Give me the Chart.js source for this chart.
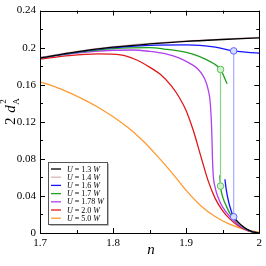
<!DOCTYPE html>
<html>
<head>
<meta charset="utf-8">
<script src="https://cdn.jsdelivr.net/npm/chart.js@4"></script>
<style>
    body { margin: 0; background: #fff; }
    #wrap { width: 266px; height: 266px; }
</style>
</head>
<body>
<div id="wrap"><canvas id="chart" width="266" height="266"></canvas></div>
<script>
// values
const nTop = [1.70, 1.75, 1.80, 1.85, 1.90, 1.95, 2.00];
const dBlack = [0.189, 0.1955, 0.2005, 0.2040, 0.2068, 0.2088, 0.2105];
const dBrown = [0.1893, 0.1959, 0.2010, 0.2045, 0.2073, 0.2093, 0.2110];

const nBlackLow = [1.962, 1.970, 1.980, 1.990, 2.000];
const dBlackLow = [0.021, 0.0125, 0.0055, 0.0015, 0];
const nBrownLow = [1.964, 1.970, 1.980, 1.990, 2.000];
const dBrownLow = [0.019, 0.012, 0.0052, 0.0014, 0];

const nBlue = [1.70, 1.75, 1.80, 1.85, 1.90, 1.94, 1.965, 2.00];
const dBlue = [0.189, 0.1953, 0.2000, 0.2025, 0.2030, 0.2005, 0.1965, 0.1940];
const nBlueLow = [1.953, 1.955, 1.958, 1.962, 1.965, 1.970, 1.980, 1.990, 2.000];
const dBlueLow = [0.058, 0.046, 0.034, 0.023, 0.0175, 0.0122, 0.0052, 0.0015, 0];

const nGreen = [1.70, 1.75, 1.80, 1.85, 1.87, 1.90, 1.915, 1.938, 1.947, 1.956];
const dGreen = [0.189, 0.1948, 0.1990, 0.2000, 0.1985, 0.1950, 0.1915, 0.1826, 0.1765, 0.1610];
const nGreenLow = [1.946, 1.947, 1.950, 1.955, 1.960, 1.970, 1.980, 1.990, 2.000];
const dGreenLow = [0.0624, 0.0506, 0.039, 0.029, 0.021, 0.0115, 0.0052, 0.0015, 0];

const nPurple = [1.70, 1.75, 1.80, 1.826, 1.85, 1.871, 1.89, 1.905, 1.916, 1.925, 1.93, 1.933, 1.935, 1.936, 1.937, 1.94, 1.945, 1.95, 1.96, 1.97, 1.98, 1.99, 2.00];
const dPurple = [0.189, 0.1942, 0.1972, 0.1975, 0.1960, 0.1935, 0.1890, 0.1830, 0.1770, 0.1670, 0.1550, 0.1400, 0.1100, 0.0800, 0.0630, 0.0480, 0.0360, 0.0280, 0.0175, 0.0098, 0.0043, 0.0012, 0];

const nRed = [1.70, 1.74, 1.78, 1.81, 1.83, 1.85, 1.865, 1.88, 1.89, 1.90, 1.91, 1.92, 1.93, 1.94, 1.95, 1.96, 1.97, 1.98, 1.99, 2.00];
const dRed = [0.1876, 0.1915, 0.1932, 0.1922, 0.1875, 0.1790, 0.1710, 0.1585, 0.1470, 0.1320, 0.1100, 0.0830, 0.0565, 0.0368, 0.0240, 0.0150, 0.0085, 0.0038, 0.0011, 0];

const nOrange = [1.70, 1.72, 1.74, 1.76, 1.78, 1.80, 1.82, 1.84, 1.86, 1.88, 1.90, 1.92, 1.94, 1.96, 1.98, 2.00];
const dOrange = [0.163, 0.158, 0.1515, 0.144, 0.1355, 0.1255, 0.114, 0.100, 0.0835, 0.0655, 0.0460, 0.0295, 0.0175, 0.0093, 0.0040, 0.0008];

// jumps (upper circle -> lower circle)
const nJumpBlue = [1.965, 1.965];
const dJumpBlue = [0.1965, 0.0175];
const nJumpGreen = [1.947, 1.947];
const dJumpGreen = [0.1765, 0.0506];

const xTicks = [1.7, 1.8, 1.9, 2.0];
const yTicks = [0, 0.04, 0.08, 0.12, 0.16, 0.2, 0.24];

const legendLabels = ['1.3', '1.4', '1.6', '1.7', '1.78', '2.0', '5.0'];
const legendColors = ['#000000', '#d8b8b8', '#1414ff', '#1ea01e', '#b040ee', '#e01818', '#ff9a30'];

const SERIF = '"Liberation Serif", "Times New Roman", serif';

function pts(n, d) {
    return n.map((x, i) => ({ x: x, y: d[i] }));
}

function curve(n, d, color, width) {
    return {
        data: pts(n, d),
        borderColor: color,
        borderWidth: width || 1.3,
        pointRadius: 0,
        fill: false,
        cubicInterpolationMode: 'monotone'
    };
}

function markers(n, d, edge, face) {
    return {
        data: pts(n, d),
        showLine: false,
        pointRadius: 3.3,
        pointBorderWidth: 1,
        pointBorderColor: edge,
        pointBackgroundColor: face
    };
}

// first dataset is drawn on top
const datasets = [
    markers(nJumpBlue, dJumpBlue, '#5a64ff', '#d8dcff'),
    markers(nJumpGreen, dJumpGreen, '#5cc05c', '#d0f0d0'),
    curve(nJumpBlue, dJumpBlue, '#a8acff', 1.2),
    curve(nJumpGreen, dJumpGreen, '#88d488', 1.2),
    curve(nTop, dBlack, legendColors[0]),
    curve(nTop, dBrown, legendColors[1]),
    curve(nBlackLow, dBlackLow, legendColors[0]),
    curve(nBrownLow, dBrownLow, legendColors[1]),
    curve(nBlue, dBlue, legendColors[2]),
    curve(nBlueLow, dBlueLow, legendColors[2]),
    curve(nGreen, dGreen, legendColors[3]),
    curve(nGreenLow, dGreenLow, legendColors[3]),
    curve(nPurple, dPurple, legendColors[4]),
    curve(nRed, dRed, legendColors[5]),
    curve(nOrange, dOrange, legendColors[6])
];

// frame, inward ticks on all four sides, axis titles and legend box
const decorations = {
    id: 'decorations',
    afterDatasetsDraw(chart) {
        const { ctx, chartArea: a, scales } = chart;
        const xs = scales.x, ys = scales.y;
        ctx.save();
        ctx.strokeStyle = '#000';
        ctx.lineWidth = 1;
        ctx.strokeRect(Math.round(a.left) + 0.5, Math.round(a.top) + 0.5, Math.round(a.right - a.left), Math.round(a.bottom - a.top));

        ctx.beginPath();
        for (let i = 0; i <= 6; i++) {
            const v = 1.7 + i * 0.05;
            const len = i % 2 === 0 ? 5 : 3;
            const px = Math.round(xs.getPixelForValue(v)) + 0.5;
            ctx.moveTo(px, a.bottom); ctx.lineTo(px, a.bottom - len);
            ctx.moveTo(px, a.top); ctx.lineTo(px, a.top + len);
        }
        for (let i = 0; i <= 12; i++) {
            const v = i * 0.02;
            const len = i % 2 === 0 ? 5 : 3;
            const py = Math.round(ys.getPixelForValue(v)) + 0.5;
            ctx.moveTo(a.left, py); ctx.lineTo(a.left + len, py);
            ctx.moveTo(a.right, py); ctx.lineTo(a.right - len, py);
        }
        ctx.stroke();

        // x title
        ctx.fillStyle = '#000';
        ctx.font = 'italic 15px ' + SERIF;
        ctx.textAlign = 'center';
        ctx.textBaseline = 'alphabetic';
        ctx.fillText('n', 151, 254);

        // y title: 2 d_A^2
        ctx.save();
        ctx.translate(15, 125);
        ctx.rotate(-Math.PI / 2);
        ctx.textAlign = 'left';
        let x = 0;
        ctx.font = '15px ' + SERIF;
        ctx.fillText('2', x, 0);
        x += ctx.measureText('2 ').width + 1;
        ctx.font = 'italic 15px ' + SERIF;
        ctx.fillText('d', x, 0);
        x += ctx.measureText('d').width + 0.5;
        ctx.font = '9px ' + SERIF;
        ctx.fillText('A', x, 4);
        ctx.fillText('2', x + 1, -9);
        ctx.restore();

        // legend
        const bx = 48, by = 162, bw = 59, bh = 62;
        ctx.fillStyle = '#fff';
        ctx.fillRect(bx, by, bw, bh);
        ctx.strokeStyle = '#555';
        ctx.lineWidth = 1;
        ctx.strokeRect(bx + 0.5, by + 0.5, bw, bh);
        ctx.strokeStyle = '#bbb';
        ctx.beginPath();
        ctx.moveTo(bx + 1.5, by + bh + 1.5); ctx.lineTo(bx + bw + 1.5, by + bh + 1.5); ctx.lineTo(bx + bw + 1.5, by + 1.5);
        ctx.stroke();
        legendLabels.forEach((lab, i) => {
            const y = 169 + i * 8.2;
            ctx.strokeStyle = legendColors[i];
            ctx.lineWidth = 1.3;
            ctx.beginPath();
            ctx.moveTo(51, y); ctx.lineTo(61, y);
            ctx.stroke();
            ctx.fillStyle = '#000';
            ctx.textBaseline = 'middle';
            ctx.textAlign = 'left';
            let tx = 67;
            ctx.font = 'italic 8px ' + SERIF;
            ctx.fillText('U', tx, y + 0.5);
            tx += ctx.measureText('U').width;
            ctx.font = '8px ' + SERIF;
            const mid = ' = ' + lab + ' ';
            ctx.fillText(mid, tx, y + 0.5);
            tx += ctx.measureText(mid).width;
            ctx.font = 'italic 8px ' + SERIF;
            ctx.fillText('W', tx, y + 0.5);
        });
        ctx.restore();
    }
};

new Chart(document.getElementById('chart').getContext('2d'), {
    type: 'line',
    data: { datasets },
    options: {
        responsive: false,
        animation: false,
        layout: { padding: { top: 10, right: 3.5, left: 0, bottom: 0 } },
        plugins: { legend: { display: false }, tooltip: { enabled: false } },
        scales: {
            x: {
                type: 'linear',
                min: 1.7,
                max: 2.0,
                afterFit: (scale) => { scale.height = 33; },
                afterBuildTicks: (scale) => { scale.ticks = xTicks.map((v) => ({ value: v })); },
                grid: { display: false, drawTicks: false },
                border: { display: false },
                ticks: {
                    padding: 4,
                    color: '#000',
                    font: { family: SERIF, size: 11 },
                    maxRotation: 0,
                    callback: (v) => String(Number(v.toFixed(1)))
                }
            },
            y: {
                min: 0,
                max: 0.24,
                afterFit: (scale) => { scale.width = 40; },
                afterBuildTicks: (scale) => { scale.ticks = yTicks.map((v) => ({ value: v })); },
                grid: { display: false, drawTicks: false },
                border: { display: false },
                ticks: {
                    padding: 4,
                    color: '#000',
                    font: { family: SERIF, size: 11 },
                    callback: (v) => String(Number(v.toFixed(2)))
                }
            }
        }
    },
    plugins: [decorations]
});
</script>
</body>
</html>
